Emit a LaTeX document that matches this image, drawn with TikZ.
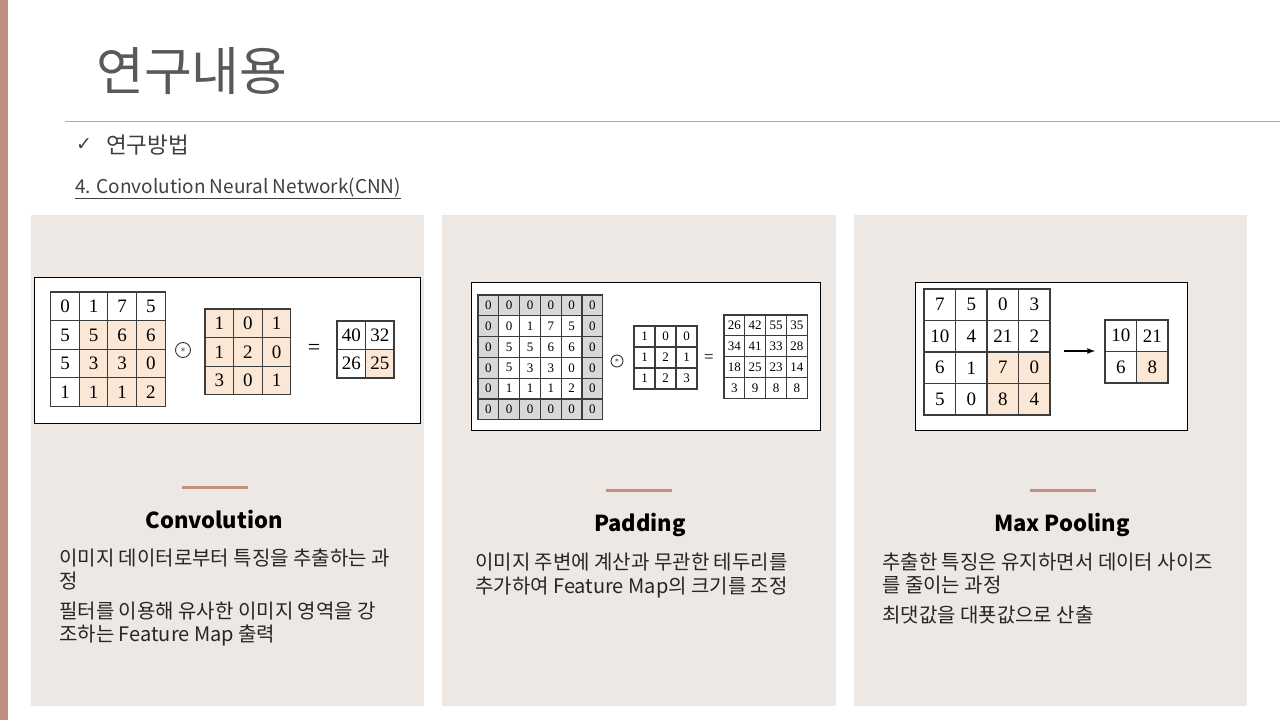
\documentclass[tikz,border=0pt]{standalone}
\usepackage{fontspec}
\setmainfont{Noto Sans CJK KR}
\newfontfamily\numfont{Liberation Serif}
\newfontfamily\symfont{DejaVu Sans}
\usetikzlibrary{arrows}

\definecolor{accent}{RGB}{192,143,126}
\definecolor{rulecol}{RGB}{196,160,145}
\definecolor{panelbg}{RGB}{237,232,227}
\definecolor{peach}{RGB}{251,231,214}
\definecolor{padgray}{RGB}{216,216,216}
\definecolor{gridline}{RGB}{60,60,60}
\definecolor{titlegray}{RGB}{89,89,89}
\definecolor{subgray}{RGB}{64,64,64}

\tikzset{
  cellbox/.style={draw=gridline, line width=1.1pt, inner sep=0pt},
  bodytext/.style={anchor=base west, inner sep=0pt, text=black!85, font=\fontsize{20}{24}\selectfont},
  headtext/.style={anchor=base, inner sep=0pt, font=\fontsize{22}{26}\selectfont\bfseries},
  opcirc/.style={draw=black!80, circle, line width=0.9pt, inner sep=0pt},
  picframe/.style={draw=black, line width=1pt, fill=white},
  accentbar/.style={accent, line width=3pt},
}

% grid of numbers: name, left, top, cell, columns, font size, values
\newcommand\numgrid[7]{%
  \foreach \v [count=\k from 0] in {#7} {
    \pgfmathtruncatemacro\gr{\k/#5}
    \pgfmathtruncatemacro\gc{\k-#5*\gr}
    \node[cellbox, minimum size=#4pt, font=\numfont\fontsize{#6}{#6}\selectfont]
      (#1-\gr-\gc) at ({#2+(\gc+0.5)*#4},{#3+(\gr+0.5)*#4}) {\v};
  }}

\begin{document}
\begin{tikzpicture}[x=1pt, y=-1pt]
    \useasboundingbox (0,0) rectangle (1280,720);
    \fill[white] (0,0) rectangle (1280,720);
    \fill[accent] (0,0) rectangle (8,720);

    % header
    \node[anchor=base west, inner sep=0pt, text=titlegray, font=\fontsize{52}{56}\selectfont] (T) at (96,90) {연구내용};
    \draw[rulecol, line width=0.8pt] (65,121) -- (1280,121);
    \node[inner sep=0pt, text=subgray, font=\symfont\fontsize{19}{19}\selectfont] (chk) at (84,145) {✓};
    \node[anchor=base west, inner sep=0pt, text=subgray, font=\fontsize{22.5}{26}\selectfont] (M) at (106,153) {연구방법};
    \node[anchor=base west, inner sep=0pt, text=subgray, font=\fontsize{19}{22}\selectfont] (S) at (75,193) {\underline{4. Convolution Neural Network(CNN)}};

    % panels
    \fill[panelbg] (31,215) rectangle (424,706);
    \fill[panelbg] (442,215) rectangle (836,706);
    \fill[panelbg] (854,215) rectangle (1247,706);

    \draw[picframe] (34,277) rectangle (420,423);
    \draw[picframe] (471,282) rectangle (820,430);
    \draw[picframe] (915,282) rectangle (1187,430);

    % convolution
    \fill[peach] (79.3,320.6) rectangle (165.1,406.4);
    \numgrid{ca}{50.7}{292}{28.6}{4}{19}{0,1,7,5,5,5,6,6,5,3,3,0,1,1,1,2}
    \node[opcirc, minimum size=15pt] (op1) at (183,350) {\fontsize{10}{10}\selectfont$\ast$};
    \fill[peach] (205,309) rectangle (290.8,394.8);
    \numgrid{cb}{205}{309}{28.6}{3}{19}{1,0,1,1,2,0,3,0,1}
    \node[inner sep=0pt, font=\numfont\fontsize{22}{22}\selectfont] (eq1) at (314,349) {=};
    \fill[peach] (365.5,349.5) rectangle (394,378);
    \numgrid{cc}{337}{321}{28.5}{2}{19}{40,32,26,25}

    % padding
    \fill[padgray] (478,295) rectangle (602.8,419.8);
    \fill[white] (498.8,315.8) rectangle (582,399);
    \numgrid{pa}{478}{295}{20.8}{6}{13}{0,0,0,0,0,0,0,0,1,7,5,0,0,5,5,6,6,0,0,5,3,3,0,0,0,1,1,1,2,0,0,0,0,0,0,0}
    \node[opcirc, minimum size=12pt] (op2) at (617,361) {\fontsize{8}{8}\selectfont$\ast$};
    \numgrid{pb}{634}{326}{21}{3}{13}{1,0,0,1,2,1,1,2,3}
    \node[inner sep=0pt, font=\numfont\fontsize{17}{17}\selectfont] (eq2) at (709,359) {=};
    \numgrid{pc}{724}{315}{20.8}{4}{13}{26,42,55,35,34,41,33,28,18,25,23,14,3,9,8,8}

    % max pooling
    \fill[peach] (987,352) rectangle (1050,415);
    \numgrid{ma}{924}{289}{31.5}{4}{19}{7,5,0,3,10,4,21,2,6,1,7,0,5,0,8,4}
    \fill[peach] (1136.5,351.5) rectangle (1168,383);
    \numgrid{mb}{1105}{320}{31.5}{2}{19}{10,21,6,8}
    \coordinate (arS) at (1064,351);
    \coordinate (arE) at (1095,351);
    \draw[-latex, line width=1.6pt] (arS) -- (arE);

    % captions
    \draw[accentbar] (182,487) -- (248,487);
    \draw[accentbar] (606,490) -- (672,490);
    \draw[accentbar] (1030,490) -- (1096,490);

    \node[headtext] (h1) at (214,528) {Convolution};
    \node[headtext] (h2) at (640,531) {Padding};
    \node[headtext] (h3) at (1062,531) {Max Pooling};

    \node[bodytext] (c1) at (59,565) {이미지 데이터로부터 특징을 추출하는 과};
    \node[bodytext] (c2) at (59,588) {정};
    \node[bodytext] (c3) at (59,618) {필터를 이용해 유사한 이미지 영역을 강};
    \node[bodytext] (c4) at (59,641) {조하는 Feature Map 출력};

    \node[bodytext] (p1) at (475,569) {이미지 주변에 계산과 무관한 테두리를};
    \node[bodytext] (p2) at (475,593) {추가하여 Feature Map의 크기를 조정};

    \node[bodytext] (m1) at (882,569) {추출한 특징은 유지하면서 데이터 사이즈};
    \node[bodytext] (m2) at (882,592) {를 줄이는 과정};
    \node[bodytext] (m3) at (882,622) {최댓값을 대푯값으로 산출};
\end{tikzpicture}
\end{document}
